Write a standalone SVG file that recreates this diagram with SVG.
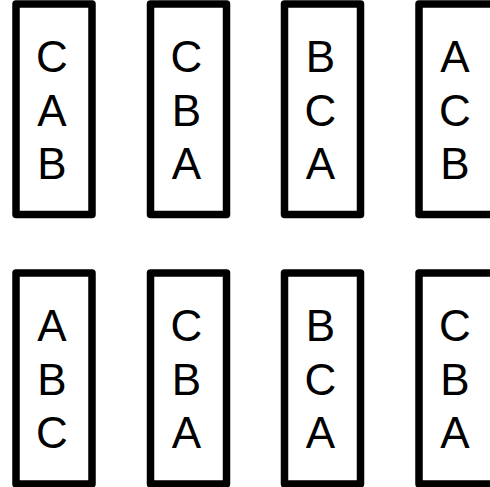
<svg xmlns="http://www.w3.org/2000/svg" width="490" height="487" viewBox="0 0 490 487">
<style>
.box{fill:#fff;stroke:#000;stroke-width:7.5;stroke-linejoin:round}
.t{font-family:"Liberation Sans",Arial,sans-serif;font-size:44px;fill:#000;text-anchor:middle}
</style>
<rect width="490" height="487" fill="#fff"/>
<g id="n1"><rect class="box" x="16" y="4" width="76" height="210.5"/><text class="t" x="52" y="72">C</text><text class="t" x="52" y="125.5">A</text><text class="t" x="52" y="179">B</text></g>
<g id="n2"><rect class="box" x="150.5" y="4" width="76" height="210.5"/><text class="t" x="186.5" y="72">C</text><text class="t" x="186.5" y="125.5">B</text><text class="t" x="186.5" y="179">A</text></g>
<g id="n3"><rect class="box" x="284.5" y="4" width="76" height="210.5"/><text class="t" x="320.5" y="72">B</text><text class="t" x="320.5" y="125.5">C</text><text class="t" x="320.5" y="179">A</text></g>
<g id="n4"><rect class="box" x="419" y="4" width="76" height="210.5"/><text class="t" x="455" y="72">A</text><text class="t" x="455" y="125.5">C</text><text class="t" x="455" y="179">B</text></g>
<g id="n5"><rect class="box" x="16" y="273" width="76" height="211"/><text class="t" x="52" y="341">A</text><text class="t" x="52" y="394.5">B</text><text class="t" x="52" y="448">C</text></g>
<g id="n6"><rect class="box" x="150.5" y="273" width="76" height="211"/><text class="t" x="186.5" y="341">C</text><text class="t" x="186.5" y="394.5">B</text><text class="t" x="186.5" y="448">A</text></g>
<g id="n7"><rect class="box" x="284.5" y="273" width="76" height="211"/><text class="t" x="320.5" y="341">B</text><text class="t" x="320.5" y="394.5">C</text><text class="t" x="320.5" y="448">A</text></g>
<g id="n8"><rect class="box" x="419" y="273" width="76" height="211"/><text class="t" x="455" y="341">C</text><text class="t" x="455" y="394.5">B</text><text class="t" x="455" y="448">A</text></g>
<g id="connectors"></g>
</svg>
